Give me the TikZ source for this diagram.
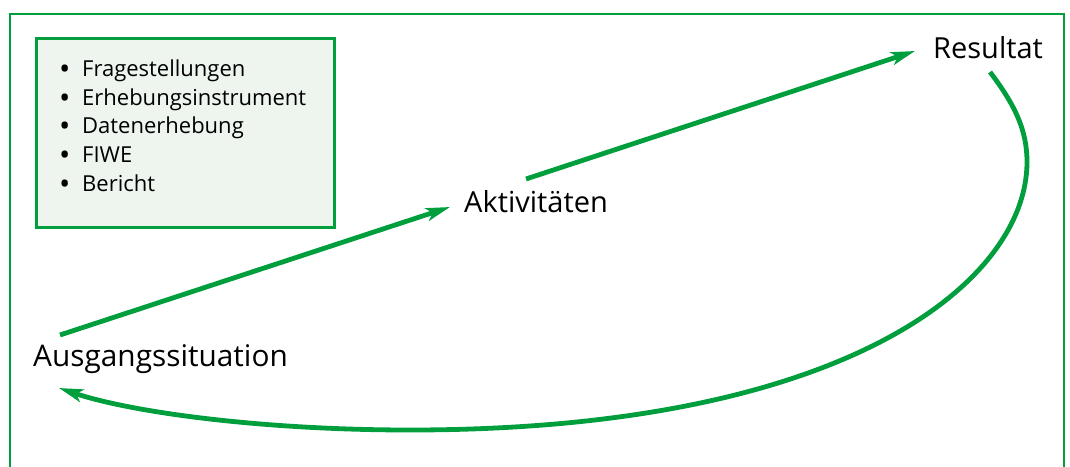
\documentclass[tikz,border=0pt]{standalone}
\usepackage{fontspec}
\setmainfont{Open Sans}
\usetikzlibrary{arrows.meta}
\definecolor{gr}{RGB}{0,158,61}
\definecolor{boxfill}{RGB}{237,245,238}
\newcommand{\mybul}{\makebox[22pt][l]{\hspace*{-1pt}\raisebox{-3.5pt}{\fontsize{30}{30}\selectfont •}}}
\tikzset{
  lbl/.style={inner sep=0pt, anchor=base west, font=\fontsize{29}{34}\selectfont},
  item/.style={inner sep=0pt, anchor=base west, font=\fontsize{22}{28}\selectfont},
  conn/.style={draw=gr, line width=4.8pt, -{Stealth[length=24pt,width=13pt,inset=6pt]}},
}
\begin{document}
\begin{tikzpicture}[x=1pt,y=-1pt]
\useasboundingbox (0,0) rectangle (1070,466);
\draw[gr, line width=2.7pt] (10,470) -- (10,14) -- (1064,14) -- (1064,470);
\node[draw=gr, fill=boxfill, line width=3pt, minimum width=298pt, minimum height=189pt, inner sep=0pt, anchor=north west] (box) at (35,37) {};
\node[item] (l1) at (60,76) {\mybul Fragestellungen};
\node[item] (l2) at (60,105) {\mybul Erhebungsinstrument};
\node[item] (l3) at (60,133) {\mybul Datenerhebung};
\node[item] (l4) at (60,162) {\mybul FIWE};
\node[item] (l5) at (60,191) {\mybul Bericht};
\node[lbl] (res) at (933,58) {Resultat};
\node[lbl] (akt) at (464,212) {Aktivitäten};
\node[lbl, font=\fontsize{29.8}{34}\selectfont] (aus) at (33,366) {Ausgangssituation};
\coordinate (a1s) at (60,335);
\coordinate (a1e) at (450,207);
\coordinate (a2s) at (526,179);
\coordinate (a2e) at (915,51);
\coordinate (cs) at (990,72);
\coordinate (ce) at (59,388);
\draw[conn] (a1s) -- (a1e);
\draw[conn] (a2s) -- (a2e);
\draw[conn] (cs) .. controls (1015,105) and (1027,130) .. (1027,162)
  .. controls (1027,280) and (850,430) .. (410,430)
  .. controls (260,430) and (130,412) .. (ce);
\end{tikzpicture}
\end{document}
